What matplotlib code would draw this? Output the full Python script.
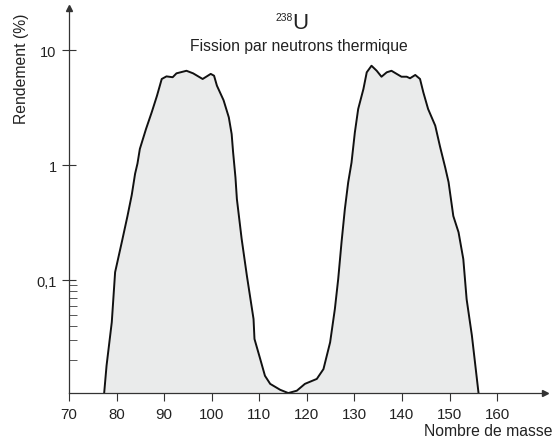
import numpy as np
import matplotlib
matplotlib.use("Agg")
import matplotlib.pyplot as plt

plt.rcParams['font.family'] = ['Liberation Sans', 'DejaVu Sans']

# Mass number vs fission yield (%) for U-238
mass = [77.4, 77.9, 79.0, 79.7, 80.0, 81.1, 82.3, 83.2, 83.9, 84.4, 84.9,
        86.2, 87.4, 88.5, 89.5, 90.5, 91.8, 92.6, 94.7, 96.1, 98.1, 99.8,
        100.5, 101.1, 102.5, 103.6, 104.2, 104.5, 105.0, 105.3, 106.3,
        107.4, 108.8, 109.0, 110.2, 111.2, 112.3, 114.4, 116.1, 117.9,
        119.6, 122.1, 123.5, 124.9, 125.9, 126.6, 127.3, 128.0, 128.7,
        129.4, 130.1, 130.8, 131.9, 132.6, 133.6, 134.7, 135.7, 136.8,
        137.8, 138.9, 139.9, 141.0, 141.7, 142.8, 143.8, 144.5, 145.5,
        147.0, 148.0, 149.1, 149.8, 150.8, 151.9, 152.9, 153.6, 154.7,
        156.1]
yields = [0.0104, 0.018, 0.043, 0.117, 0.133, 0.213, 0.36, 0.55, 0.84,
          1.03, 1.38, 2.06, 2.88, 4.0, 5.6, 5.9, 5.8, 6.27, 6.6, 6.27, 5.6,
          6.2, 5.98, 4.9, 3.66, 2.6, 1.86, 1.3, 0.78, 0.506, 0.228, 0.109,
          0.0458, 0.0307, 0.0206, 0.0147, 0.0125, 0.0111, 0.0104, 0.0109,
          0.0125, 0.0138, 0.0168, 0.0287, 0.056, 0.102, 0.213, 0.414,
          0.707, 1.05, 1.92, 3.07, 4.58, 6.4, 7.3, 6.6, 5.86, 6.4, 6.6,
          6.2, 5.86, 5.86, 5.68, 6.07, 5.6, 4.28, 3.07, 2.2, 1.45, 0.95,
          0.71, 0.36, 0.26, 0.152, 0.068, 0.033, 0.0104]

x_ticks = [70, 80, 90, 100, 110, 120, 130, 140, 150, 160]
y_ticks = [0.1, 1, 10]
y_tick_labels = ['0,1', '1', '10']
y_minor = [0.02, 0.03, 0.04, 0.05, 0.06, 0.07, 0.08, 0.09]

ymin, ymax = 0.01041, 23.2
txt = '#222222'
axc = '#333333'

fig = plt.figure(figsize=(5.54, 4.39), dpi=100)
ax = fig.add_axes([0.1245, 0.1025, 0.8593, 0.877])
ax.set_yscale('log')

ax.fill_between(mass, yields, ymin, color='#eaebeb', lw=0)
ax.plot(mass, yields, color='#111111', lw=1.4, solid_joinstyle='round')

ax.set_xlim(70, 170.08)
ax.set_ylim(ymin, ymax)

for s in ['top', 'right']:
    ax.spines[s].set_visible(False)
for s in ['left', 'bottom']:
    ax.spines[s].set_color(axc)
    ax.spines[s].set_linewidth(0.9)

# arrow heads at the axis ends
ax.plot(1, 0, '>', color=axc, ms=5, transform=ax.transAxes, clip_on=False)
ax.plot(0, 1, '^', color=axc, ms=5, transform=ax.transAxes, clip_on=False)

ax.set_xticks(x_ticks)
ax.set_yticks(y_ticks)
ax.set_yticklabels(y_tick_labels)
ax.set_yticks(y_minor, minor=True)
ax.yaxis.set_minor_formatter(plt.NullFormatter())

ax.tick_params(axis='x', direction='out', length=5.5, width=0.8, color=axc,
               labelsize=10.8, labelcolor=txt, pad=4.5)
ax.tick_params(axis='y', which='major', direction='inout', length=10.5,
               width=0.8, color=axc, labelsize=10.5, labelcolor=txt, pad=3.6)
ax.tick_params(axis='y', which='minor', direction='in', length=5.5,
               width=0.7, color='#555555')

fig.text(0.038, 0.843, 'Rendement (%)', rotation=90, ha='center',
         va='center', fontsize=11.3, color=txt)
fig.text(0.997, 0.006, 'Nombre de masse', ha='right', va='baseline',
         fontsize=11.3, color=txt)

fig.text(0.528, 0.9529, '238', ha='right', va='baseline', fontsize=7.4,
         color=txt)
fig.text(0.528, 0.9333, 'U', ha='left', va='baseline', fontsize=16,
         color=txt)
fig.text(0.539, 0.8827, 'Fission par neutrons thermique', ha='center',
         va='baseline', fontsize=11.3, color=txt)

fig.savefig('out.png', dpi=100)
